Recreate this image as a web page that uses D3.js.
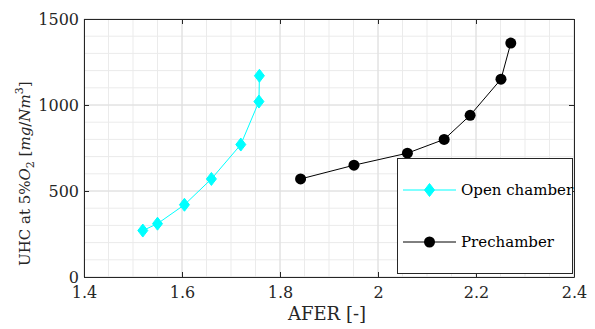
<!DOCTYPE html>
<html><head><meta charset="utf-8">
<script src="https://cdn.jsdelivr.net/npm/d3@7"></script>
<style>body{margin:0;background:#fff}svg{display:block}text{font-family:"DejaVu Serif","Liberation Serif",serif}</style>
</head><body><svg id="c" width="595" height="329"></svg>
<script>
const openX = [1.52, 1.55, 1.605, 1.66, 1.72, 1.757, 1.758];
const openY = [270, 310, 420, 570, 770, 1020, 1170];
const preX = [1.842, 1.951, 2.06, 2.135, 2.188, 2.251, 2.271];
const preY = [570, 650, 720, 800, 940, 1150, 1360];
const xTicks = [1.4, 1.6, 1.8, 2.0, 2.2, 2.4];
const xTickLabels = ["1.4", "1.6", "1.8", "2", "2.2", "2.4"];
const yTicks = [0, 500, 1000, 1500];
const yTickLabels = ["0", "500", "1000", "1500"];
const seriesNames = ["Open chamber", "Prechamber"];

const svg = d3.select("#c");
const L = 84, R = 574, T = 19, B = 277;
const x = d3.scaleLinear().domain([1.4, 2.4]).range([L, R]);
const y = d3.scaleLinear().domain([0, 1500]).range([B, T]);
const FS = 16;

// minor grid
const g = svg.append("g");
g.selectAll(".mx").data(d3.range(1.4, 2.4001, 0.05)).enter().append("line")
  .attr("x1", d => x(d)).attr("x2", d => x(d)).attr("y1", T).attr("y2", B)
  .attr("stroke", "#ebebeb").attr("stroke-width", 1);
g.selectAll(".my").data(d3.range(0, 1500.1, 100)).enter().append("line")
  .attr("y1", d => y(d)).attr("y2", d => y(d)).attr("x1", L).attr("x2", R)
  .attr("stroke", "#ebebeb").attr("stroke-width", 1);
// major grid
g.selectAll(".Mx").data(xTicks).enter().append("line")
  .attr("x1", d => x(d)).attr("x2", d => x(d)).attr("y1", T).attr("y2", B)
  .attr("stroke", "#dedede").attr("stroke-width", 1);
g.selectAll(".My").data(yTicks).enter().append("line")
  .attr("y1", d => y(d)).attr("y2", d => y(d)).attr("x1", L).attr("x2", R)
  .attr("stroke", "#dedede").attr("stroke-width", 1);

// axes
const ax = svg.append("g").attr("transform", `translate(0,${B})`)
  .call(d3.axisBottom(x).tickValues(xTicks).tickFormat((d, i) => xTickLabels[i]).tickSizeInner(-5).tickSizeOuter(0).tickPadding(9));
const ay = svg.append("g").attr("transform", `translate(${L},0)`)
  .call(d3.axisLeft(y).tickValues(yTicks).tickFormat((d, i) => yTickLabels[i]).tickSizeInner(-5).tickSizeOuter(0).tickPadding(5));
const axT = svg.append("g").attr("transform", `translate(0,${T})`)
  .call(d3.axisTop(x).tickValues(xTicks).tickFormat("").tickSizeInner(-5).tickSizeOuter(0));
const ayR = svg.append("g").attr("transform", `translate(${R},0)`)
  .call(d3.axisRight(y).tickValues(yTicks).tickFormat("").tickSizeInner(-5).tickSizeOuter(0));
[ax, ay, axT, ayR].forEach(a => {
  a.attr("font-family", null);
  a.select(".domain").attr("stroke", "#262626");
  a.selectAll(".tick line").attr("stroke", "#262626");
  a.selectAll("text").attr("font-size", FS).attr("fill", "#262626");
});
ax.selectAll("text").attr("dy", "0.75em");

// series
const open = openX.map((d, i) => [d, openY[i]]);
const pre = preX.map((d, i) => [d, preY[i]]);
const line = d3.line().x(d => x(d[0])).y(d => y(d[1]));
svg.append("path").datum(open).attr("d", line).attr("fill", "none").attr("stroke", "#00ffff").attr("stroke-width", 1);
svg.append("path").datum(pre).attr("d", line).attr("fill", "none").attr("stroke", "#000").attr("stroke-width", 1);
const diamond = (cx, cy) => `M${cx},${cy-6.5}L${cx+5},${cy}L${cx},${cy+6.5}L${cx-5},${cy}Z`;
svg.selectAll(".od").data(open).enter().append("path")
  .attr("d", d => diamond(x(d[0]), y(d[1]))).attr("fill", "#00ffff").attr("stroke", "#00ffff");
svg.selectAll(".pc").data(pre).enter().append("circle")
  .attr("cx", d => x(d[0])).attr("cy", d => y(d[1])).attr("r", 5.5).attr("fill", "#000");

// legend
const lg = svg.append("g");
lg.append("rect").attr("x", 397.5).attr("y", 158.5).attr("width", 175).attr("height", 115)
  .attr("fill", "#fff").attr("stroke", "#262626").attr("stroke-width", 1);
const ly = [190, 242];
lg.append("line").attr("x1", 403).attr("x2", 456).attr("y1", ly[0]).attr("y2", ly[0]).attr("stroke", "#00ffff");
lg.append("path").attr("d", diamond(429.5, ly[0])).attr("fill", "#00ffff").attr("stroke", "#00ffff");
lg.append("line").attr("x1", 403).attr("x2", 456).attr("y1", ly[1]).attr("y2", ly[1]).attr("stroke", "#000");
lg.append("circle").attr("cx", 429.5).attr("cy", ly[1]).attr("r", 5.5).attr("fill", "#000");
seriesNames.forEach((n, i) => {
  lg.append("text").attr("x", 461).attr("y", ly[i]).attr("dy", "0.33em").attr("font-size", 15).attr("fill", "#000").text(n);
});

// axis labels
svg.append("text").attr("x", (L + R) / 2 - 2).attr("y", 320).attr("text-anchor", "middle")
  .attr("font-size", 18).attr("fill", "#262626").text("AFER [-]");
const yl = svg.append("text").attr("font-size", 15).attr("fill", "#262626")
  .attr("transform", "translate(30,266) rotate(-90)");
yl.append("tspan").text("UHC at 5%");
yl.append("tspan").attr("font-style", "italic").text("O");
yl.append("tspan").attr("font-size", 11).attr("dy", 4).text("2");
yl.append("tspan").attr("dy", -4).text(" [");
yl.append("tspan").attr("font-style", "italic").text("mg");
yl.append("tspan").text("/");
yl.append("tspan").attr("font-style", "italic").text("Nm");
yl.append("tspan").attr("font-size", 11).attr("dy", -7).text("3");
yl.append("tspan").attr("dy", 7).text("]");
</script></body></html>
